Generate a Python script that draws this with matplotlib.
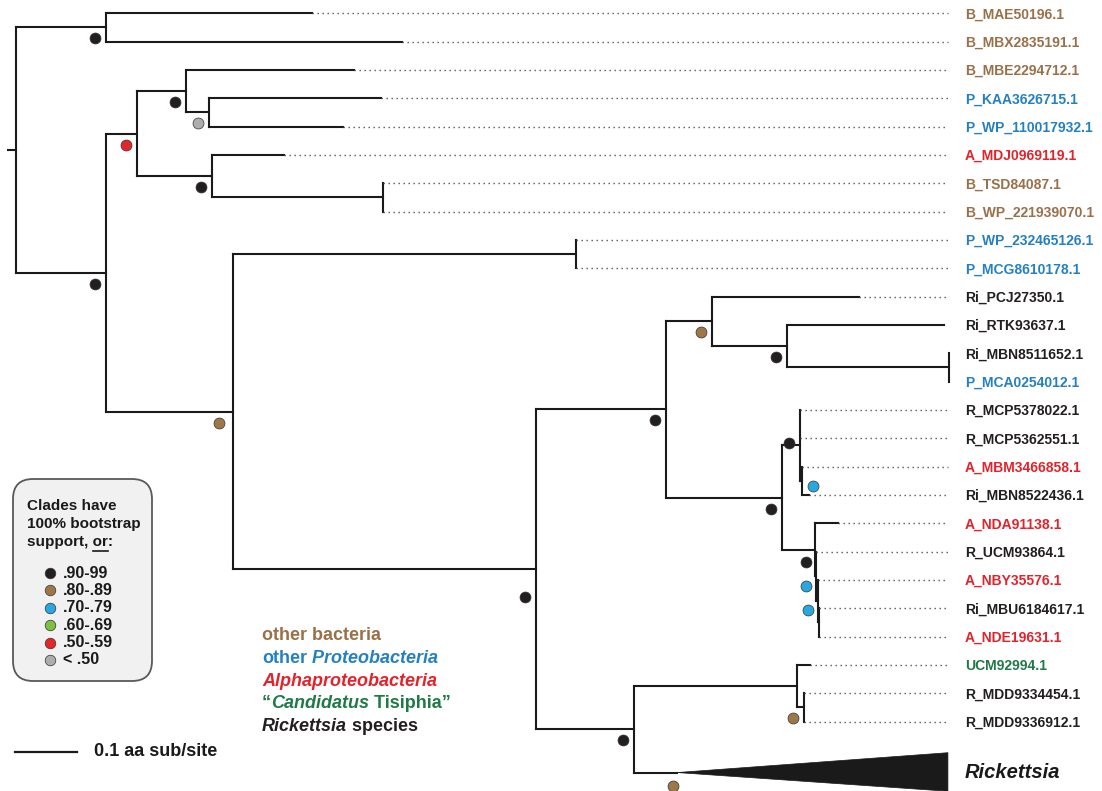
import matplotlib
matplotlib.use("Agg")
import matplotlib.pyplot as plt
from matplotlib.patches import FancyBboxPatch, Polygon

plt.rcParams['font.family'] = ['Liberation Sans', 'DejaVu Sans']

# tree, flat: node / parent / branch length (aa sub/site) / support class
# support: index into support_labels, None = 100%
node_name = [
    "root",
    "n1", "B_MAE50196.1", "B_MBX2835191.1",
    "n2",
    "n3", "n4", "B_MBE2294712.1", "n5", "P_KAA3626715.1", "P_WP_110017932.1",
    "n6", "A_MDJ0969119.1", "n7", "B_TSD84087.1", "B_WP_221939070.1",
    "n8", "n9", "P_WP_232465126.1", "P_MCG8610178.1",
    "n10", "n11", "n12", "Ri_PCJ27350.1", "n13", "Ri_RTK93637.1",
    "n14", "Ri_MBN8511652.1", "P_MCA0254012.1",
    "n15", "n16", "R_MCP5378022.1", "R_MCP5362551.1",
    "n17", "A_MBM3466858.1", "Ri_MBN8522436.1",
    "n18", "A_NDA91138.1", "n19", "R_UCM93864.1", "n20", "A_NBY35576.1",
    "n21", "Ri_MBU6184617.1", "A_NDE19631.1",
    "n22", "n23", "UCM92994.1", "n24", "R_MDD9334454.1", "R_MDD9336912.1",
    "Rickettsia",
]
node_parent = [
    None,
    "root", "n1", "n1",
    "root",
    "n2", "n3", "n4", "n4", "n5", "n5",
    "n3", "n6", "n6", "n7", "n7",
    "n2", "n8", "n9", "n9",
    "n8", "n10", "n11", "n12", "n12", "n13",
    "n13", "n14", "n14",
    "n11", "n15", "n16", "n16",
    "n16", "n17", "n17",
    "n15", "n18", "n18", "n19", "n19", "n20",
    "n20", "n21", "n21",
    "n10", "n22", "n23", "n23", "n24", "n24",
    "n22",
]
branch_len = [
    0.013,
    0.145, 0.332, 0.477,
    0.145,
    0.050, 0.079, 0.271, 0.037, 0.277, 0.216,
    0.121, 0.116, 0.276, 0.0, 0.0,
    0.205, 0.553, 0.0, 0.0,
    0.489, 0.210, 0.074, 0.237, 0.121, 0.253,
    0.261, 0.0, 0.0,
    0.187, 0.029, 0.0, 0.0,
    0.003, 0.0, 0.011,
    0.052, 0.037, 0.002, 0.0, 0.003, 0.0,
    0.002, 0.0, 0.0,
    0.158, 0.263, 0.021, 0.011, 0.0, 0.0,
    0.069,
]
support = [
    None,
    0, None, None,
    0,
    4, 0, None, 5, None, None,
    0, None, None, None, None,
    1, None, None, None,
    0, 0, 1, None, 0, None,
    None, None, None,
    0, 0, None, None,
    2, None, None,
    None, None, 0, None, 2, None,
    2, None, None,
    0, None, None, 1, None, None,
    1,
]

tip_group = {
    "B_MAE50196.1": "bact", "B_MBX2835191.1": "bact", "B_MBE2294712.1": "bact",
    "P_KAA3626715.1": "prot", "P_WP_110017932.1": "prot", "A_MDJ0969119.1": "alpha",
    "B_TSD84087.1": "bact", "B_WP_221939070.1": "bact",
    "P_WP_232465126.1": "prot", "P_MCG8610178.1": "prot",
    "Ri_PCJ27350.1": "rick", "Ri_RTK93637.1": "rick", "Ri_MBN8511652.1": "rick",
    "P_MCA0254012.1": "prot", "R_MCP5378022.1": "rick", "R_MCP5362551.1": "rick",
    "A_MBM3466858.1": "alpha", "Ri_MBN8522436.1": "rick", "A_NDA91138.1": "alpha",
    "R_UCM93864.1": "rick", "A_NBY35576.1": "alpha", "Ri_MBU6184617.1": "rick",
    "A_NDE19631.1": "alpha", "UCM92994.1": "tis", "R_MDD9334454.1": "rick",
    "R_MDD9336912.1": "rick",
}
group_color = {"bact": "#9A7049", "prot": "#2580C3", "alpha": "#E4222A",
               "tis": "#1F7A46", "rick": "#231F20"}

support_labels = [".90-99", ".80-.89", ".70-.79", ".60-.69", ".50-.59", "< .50"]
support_colors = ["#231F20", "#9E7748", "#29A8E0", "#7DC143", "#E4262B", "#ADADAD"]

collapsed = "Rickettsia"
collapsed_depth = 0.437

# ---- layout -----------------------------------------------------------
PX_X = 620.0    # px per 1.0 aa sub/site
PX_Y = 28.33    # px per row
row0 = 13.3
collapsed_row = 26.8

children = {n: [] for n in node_name}
for n, p in zip(node_name, node_parent):
    if p is not None:
        children[p].append(n)
blen = dict(zip(node_name, branch_len))
xpos, ypos = {}, {}
counter = [0]


def layout(n, x):
    xpos[n] = x + blen[n]
    kids = children[n]
    if not kids:
        if n == collapsed:
            ypos[n] = collapsed_row
        else:
            ypos[n] = counter[0]
            counter[0] += 1
        return
    for k in kids:
        layout(k, xpos[n])
    ypos[n] = 0.5 * (ypos[kids[0]] + ypos[kids[-1]])


layout("root", 0.0)

W, H = 1102, 791
fig = plt.figure(figsize=(W / 100, H / 100), dpi=100)
lx = fig.add_axes([0, 0, 1, 1])
lx.set_xlim(0, W)
lx.set_ylim(H, 0)
lx.axis('off')
ax = fig.add_axes([0, 0, 1, 1])
ax.patch.set_visible(False)
ax.set_xlim(-8 / PX_X, (W - 8) / PX_X)
ax.set_ylim((H - row0) / PX_Y, -row0 / PX_Y)
ax.axis('off')

lw = 1.5
lc = "#1a1a1a"
for n, p in zip(node_name, node_parent):
    x0 = 0.0 if p is None else xpos[p]
    if xpos[n] > x0:
        ax.plot([x0, xpos[n]], [ypos[n], ypos[n]], color=lc, lw=lw,
                solid_capstyle='projecting')
    kids = children[n]
    if kids:
        ax.plot([xpos[n], xpos[n]], [ypos[kids[0]], ypos[kids[-1]]],
                color=lc, lw=lw, solid_capstyle='projecting')

# collapsed Rickettsia clade
xc, yc = xpos[collapsed], ypos[collapsed]
ax.add_patch(Polygon([(xc, yc), (xc + collapsed_depth, yc - 0.7),
                      (xc + collapsed_depth, yc + 0.66)],
                     closed=True, fc=lc, ec=lc, lw=0.5))
ax.text(1.5435, yc, "Rickettsia", fontsize=14.5, fontweight='bold',
        fontstyle='italic', va='center', ha='left', color="#1a1a1a")

# tips, leaders
leader_end = (948 - 8) / PX_X
for n in node_name:
    if children[n] or n == collapsed:
        continue
    if leader_end - xpos[n] > 6 / PX_X:
        ax.plot([xpos[n], leader_end], [ypos[n], ypos[n]], color="#555555",
                lw=1.0, linestyle=(0, (1, 2.6)))
    ax.text(1.5435, ypos[n] + 0.04, n, fontsize=10, fontweight='bold',
            color=group_color[tip_group[n]], va='center', ha='left')

# support dots (offsets in px)
dot_shift = {"n16": (-11, -2), "n17": (11, 5), "n19": (-10, -14),
             "n20": (-12, -15), "n21": (-11, -12), "n10": (-11, 28),
             "n8": (-14, 11), "Rickettsia": (-4, 13)}
for n, s in zip(node_name, support):
    if s is None:
        continue
    dx, dy = dot_shift.get(n, (-11, 11))
    ax.scatter(xpos[n] + dx / PX_X, ypos[n] + dy / PX_Y, s=62,
               color=support_colors[s], edgecolor="#333333", linewidth=0.5,
               zorder=5)

# scale bar
sb_row = (752 - row0) / PX_Y
ax.plot([7 / PX_X, 7 / PX_X + 0.1], [sb_row, sb_row], color=lc, lw=1.6)
ax.text((94 - 8) / PX_X, sb_row, "0.1 aa sub/site", fontsize=13,
        fontweight='bold', va='center', ha='left', color="#1a1a1a")

# support legend box
lx.add_patch(FancyBboxPatch((13, 479), 139, 202,
                            boxstyle="round,pad=0,rounding_size=20",
                            fc="#F1F1F2", ec="#58595B", lw=1.3))
box_lines = ["Clades have", "100% bootstrap", "support, or:"]
for i, t in enumerate(box_lines):
    lx.text(27, 506 + 18.2 * i, t, fontsize=11, fontweight='bold',
            va='center', ha='left', color="#1a1a1a")
for i, (lab, col) in enumerate(zip(support_labels, support_colors)):
    yy = 573 + 17.4 * i
    lx.scatter(50, yy, s=58, color=col, edgecolor="#333333", linewidth=0.5)
    lx.text(63, yy, lab, fontsize=11.5, fontweight='bold', va='center',
            ha='left', color="#1a1a1a")

# underline "or"
fig.canvas.draw()
rend = fig.canvas.get_renderer()
tmp1 = lx.text(27, 506 + 36.4, "support, or", fontsize=11, fontweight='bold',
               va='center', ha='left')
tmp2 = lx.text(27, 506 + 36.4, "or", fontsize=11, fontweight='bold',
               va='center', ha='left')
b1 = tmp1.get_window_extent(rend)
b2 = tmp2.get_window_extent(rend)
inv = lx.transData.inverted()
xr = inv.transform((b1.x1, 0))[0]
xl = inv.transform((b1.x1 - b2.width, 0))[0]
tmp1.remove()
tmp2.remove()
lx.plot([xl, xr], [551, 551], color="#1a1a1a", lw=1.2)

# taxon colour legend, mixed roman / italic runs
legend_runs = [
    [("other bacteria", "normal", "bact")],
    [("other", "normal", "prot"), (" Proteobacteria", "italic", "prot")],
    [("Alphaproteobacteria", "italic", "alpha")],
    [("\u201c", "normal", "tis"), ("Candidatus", "italic", "tis"),
     (" Tisiphia\u201d", "normal", "tis")],
    [("Rickettsia", "italic", "rick"), (" species", "normal", "rick")],
]
for i, runs in enumerate(legend_runs):
    prev = None
    for txt, style, grp in runs:
        kw = dict(fontsize=13, fontweight='bold', fontstyle=style,
                  color=group_color[grp], va='center', ha='left')
        if prev is None:
            prev = lx.text(262, 636 + 22.6 * i, txt, **kw)
        else:
            prev = lx.annotate(txt, xy=(1, 0.5), xycoords=prev, **kw)

fig.savefig("out.png", dpi=100)
